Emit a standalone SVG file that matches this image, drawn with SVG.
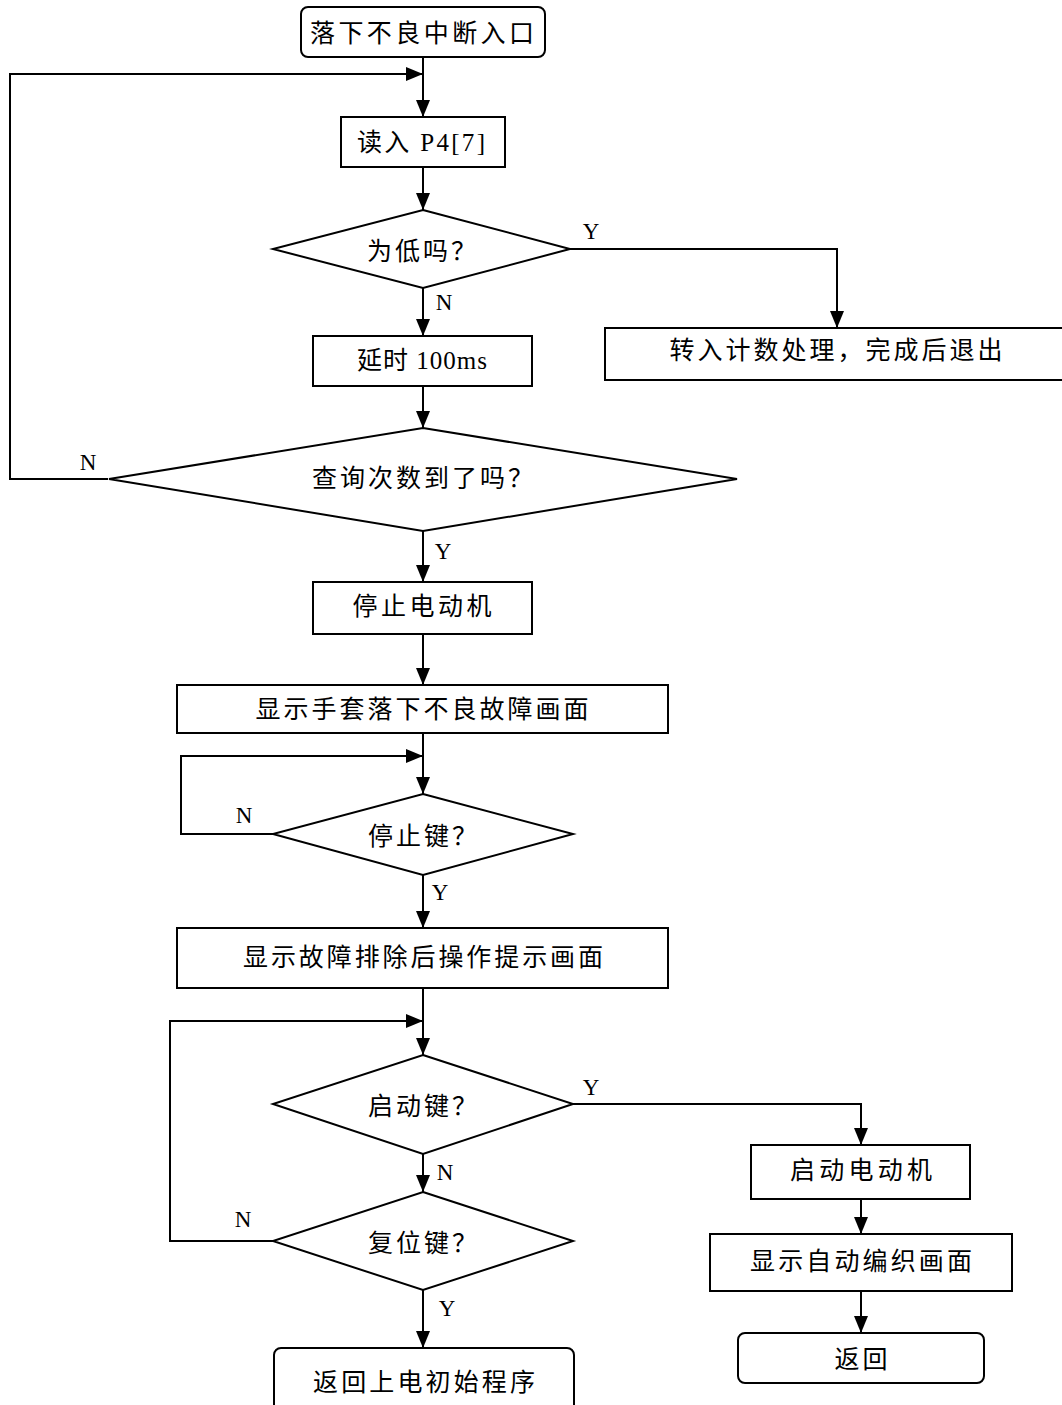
<svg xmlns="http://www.w3.org/2000/svg" width="1062" height="1405" viewBox="0 0 1062 1405">
<style>
.s{fill:#fff;stroke:#000;stroke-width:2}
.c{fill:none;stroke:#000;stroke-width:2}
.t{font-family:"Liberation Serif","Noto Sans CJK SC",serif;font-size:25px;fill:#000;text-anchor:middle;dominant-baseline:central}
.q{font-family:"Noto Sans CJK SC",sans-serif;font-size:25px;fill:#000;dominant-baseline:central;letter-spacing:3px}
.l{font-family:"Liberation Serif",serif;font-size:23px;fill:#000;text-anchor:middle;dominant-baseline:central}
</style>
<defs>
<marker id="a" markerUnits="userSpaceOnUse" markerWidth="17" markerHeight="14" refX="17" refY="7" orient="auto">
<path d="M0,0 L17,7 L0,14 z" fill="#000"/>
</marker>
</defs>
<rect width="1062" height="1405" fill="#fff"/>
<g id="connectors">
<path class="c" d="M423,57 V117" marker-end="url(#a)"/>
<path class="c" d="M108,479 H10 V74 H423" marker-end="url(#a)"/>
<path class="c" d="M423,167 V210" marker-end="url(#a)"/>
<path class="c" d="M570,249 H837 V328" marker-end="url(#a)"/>
<path class="c" d="M423,288 V336" marker-end="url(#a)"/>
<path class="c" d="M423,386 V428" marker-end="url(#a)"/>
<path class="c" d="M423,531 V582" marker-end="url(#a)"/>
<path class="c" d="M423,634 V685" marker-end="url(#a)"/>
<path class="c" d="M423,733 V794" marker-end="url(#a)"/>
<path class="c" d="M273,834 H181 V756 H423" marker-end="url(#a)"/>
<path class="c" d="M423,875 V928" marker-end="url(#a)"/>
<path class="c" d="M423,988 V1055" marker-end="url(#a)"/>
<path class="c" d="M273,1241 H170 V1021 H423" marker-end="url(#a)"/>
<path class="c" d="M573,1104 H861 V1145" marker-end="url(#a)"/>
<path class="c" d="M423,1154 V1192" marker-end="url(#a)"/>
<path class="c" d="M423,1290 V1348" marker-end="url(#a)"/>
<path class="c" d="M861,1199 V1234" marker-end="url(#a)"/>
<path class="c" d="M861,1291 V1333" marker-end="url(#a)"/>
<text class="l" x="591" y="231">Y</text>
<text class="l" x="444" y="302">N</text>
<text class="l" x="88" y="462">N</text>
<text class="l" x="443" y="551">Y</text>
<text class="l" x="244" y="815">N</text>
<text class="l" x="440" y="892">Y</text>
<text class="l" x="591" y="1087">Y</text>
<text class="l" x="445" y="1172">N</text>
<text class="l" x="243" y="1219">N</text>
<text class="l" x="447" y="1308">Y</text>
</g>
<g id="start">
<rect class="s" x="301" y="7" width="244" height="50" rx="7"/>
<text class="t" x="422" y="33" textLength="224" lengthAdjust="spacing">落下不良中断入口</text>
</g>
<g id="read">
<rect class="s" x="341" y="117" width="164" height="50"/>
<text class="t" x="421" y="142" textLength="128" lengthAdjust="spacing">读入 P4[7]</text>
</g>
<g id="isLow">
<polygon class="s" points="423,210 570,249 423,288 273,249"/>
<text class="q" x="367" y="249">为低吗？</text>
</g>
<g id="count">
<rect class="s" x="605" y="328" width="460" height="52"/>
<text class="t" x="836" y="350" textLength="333" lengthAdjust="spacing">转入计数处理，完成后退出</text>
</g>
<g id="delay">
<rect class="s" x="313" y="336" width="219" height="50"/>
<text class="t" x="422" y="360" textLength="130" lengthAdjust="spacing">延时 100ms</text>
</g>
<g id="times">
<polygon class="s" points="423,428 737,479 423,531 109,479"/>
<text class="q" x="312" y="476">查询次数到了吗？</text>
</g>
<g id="stopMotor">
<rect class="s" x="313" y="582" width="219" height="52"/>
<text class="t" x="422" y="606" textLength="139" lengthAdjust="spacing">停止电动机</text>
</g>
<g id="showFault">
<rect class="s" x="177" y="685" width="491" height="48"/>
<text class="t" x="422" y="709" textLength="333" lengthAdjust="spacing">显示手套落下不良故障画面</text>
</g>
<g id="stopKey">
<polygon class="s" points="423,794 573,834 423,875 273,834"/>
<text class="q" x="368" y="834">停止键？</text>
</g>
<g id="showHint">
<rect class="s" x="177" y="928" width="491" height="60"/>
<text class="t" x="423" y="957" textLength="360" lengthAdjust="spacing">显示故障排除后操作提示画面</text>
</g>
<g id="startKey">
<polygon class="s" points="423,1055 573,1104 423,1154 273,1104"/>
<text class="q" x="368" y="1104">启动键？</text>
</g>
<g id="resetKey">
<polygon class="s" points="423,1192 573,1241 423,1290 273,1241"/>
<text class="q" x="368" y="1241">复位键？</text>
</g>
<g id="startMotor">
<rect class="s" x="751" y="1145" width="219" height="54"/>
<text class="t" x="861" y="1170" textLength="142" lengthAdjust="spacing">启动电动机</text>
</g>
<g id="showAuto">
<rect class="s" x="710" y="1234" width="302" height="57"/>
<text class="t" x="861" y="1261" textLength="222" lengthAdjust="spacing">显示自动编织画面</text>
</g>
<g id="return">
<rect class="s" x="738" y="1333" width="246" height="50" rx="7"/>
<text class="t" x="861" y="1359" textLength="53" lengthAdjust="spacing">返回</text>
</g>
<g id="returnInit">
<rect class="s" x="274" y="1348" width="300" height="70" rx="7"/>
<text class="t" x="424" y="1382" textLength="222" lengthAdjust="spacing">返回上电初始程序</text>
</g>
</svg>
